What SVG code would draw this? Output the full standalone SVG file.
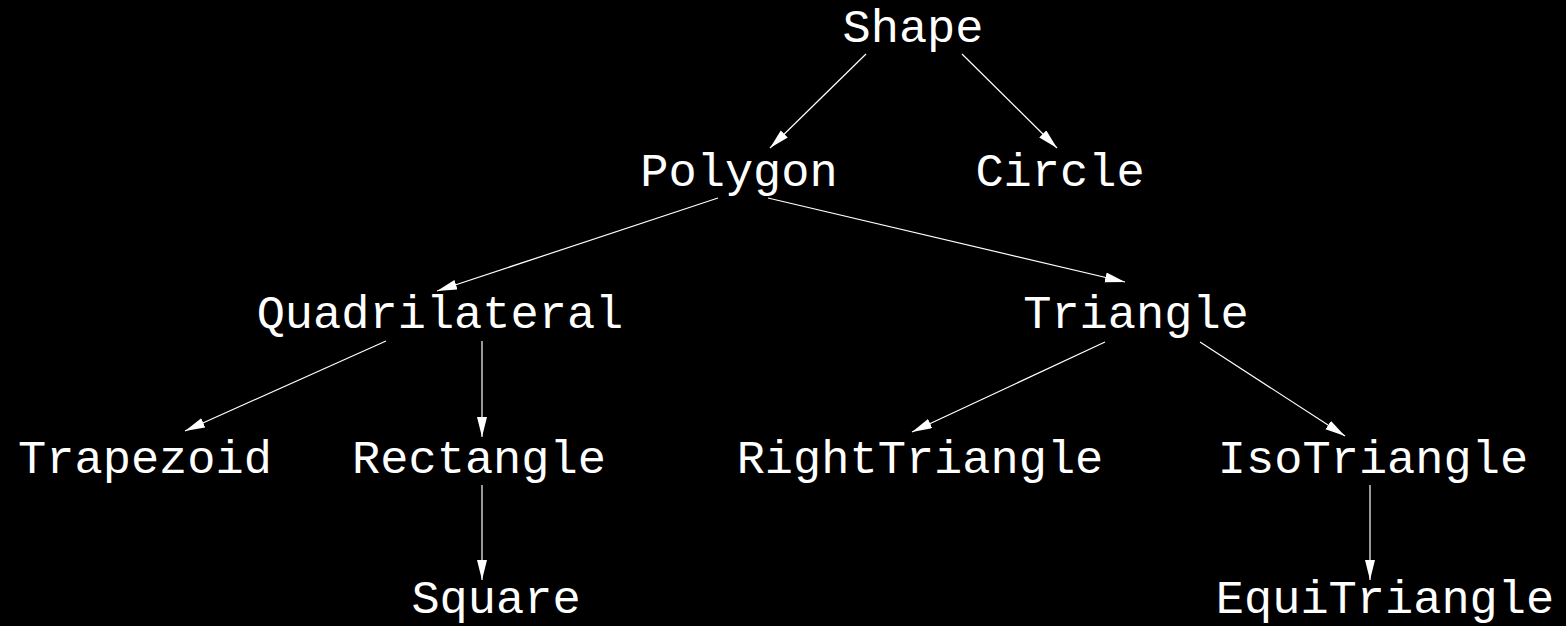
<svg xmlns="http://www.w3.org/2000/svg" width="1566" height="626" viewBox="0 0 1566 626">
<style>
text{font-family:"Liberation Mono","Courier New",monospace;font-size:47px;fill:#fff;text-anchor:middle}
.e line{stroke:#fff;stroke-width:1.2;marker-end:url(#ah)}
</style>
<defs>
<marker id="ah" markerUnits="userSpaceOnUse" markerWidth="21" markerHeight="11" refX="20" refY="5" orient="auto" viewBox="0 0 21 11">
<path d="M0,0 L20,5 L0,10 z" fill="#fff"/>
</marker>
</defs>
<rect width="1566" height="626" fill="#000"/>
<g class="e" id="edges">
<line x1="866" y1="54" x2="770" y2="148"/>
<line x1="962" y1="54" x2="1057" y2="148"/>
<line x1="718" y1="198" x2="437" y2="291"/>
<line x1="768" y1="198" x2="1125" y2="282"/>
<line x1="386" y1="341" x2="185" y2="431"/>
<line x1="482" y1="341" x2="482" y2="437"/>
<line x1="1105" y1="342" x2="912" y2="432"/>
<line x1="1200" y1="342" x2="1345" y2="436"/>
<line x1="482" y1="485" x2="482" y2="580"/>
<line x1="1370" y1="485" x2="1370" y2="580"/>
</g>
<g id="Shape"><text x="913" y="42">Shape</text></g>
<g id="Polygon"><text x="739" y="186">Polygon</text></g>
<g id="Circle"><text x="1060" y="186">Circle</text></g>
<g id="Quadrilateral"><text x="440" y="328">Quadrilateral</text></g>
<g id="Triangle"><text x="1136" y="328">Triangle</text></g>
<g id="Trapezoid"><text x="145" y="473">Trapezoid</text></g>
<g id="Rectangle"><text x="479" y="473">Rectangle</text></g>
<g id="RightTriangle"><text x="920" y="473">RightTriangle</text></g>
<g id="IsoTriangle"><text x="1373" y="473">IsoTriangle</text></g>
<g id="Square"><text x="496" y="613">Square</text></g>
<g id="EquiTriangle"><text x="1385" y="613">EquiTriangle</text></g>
</svg>
